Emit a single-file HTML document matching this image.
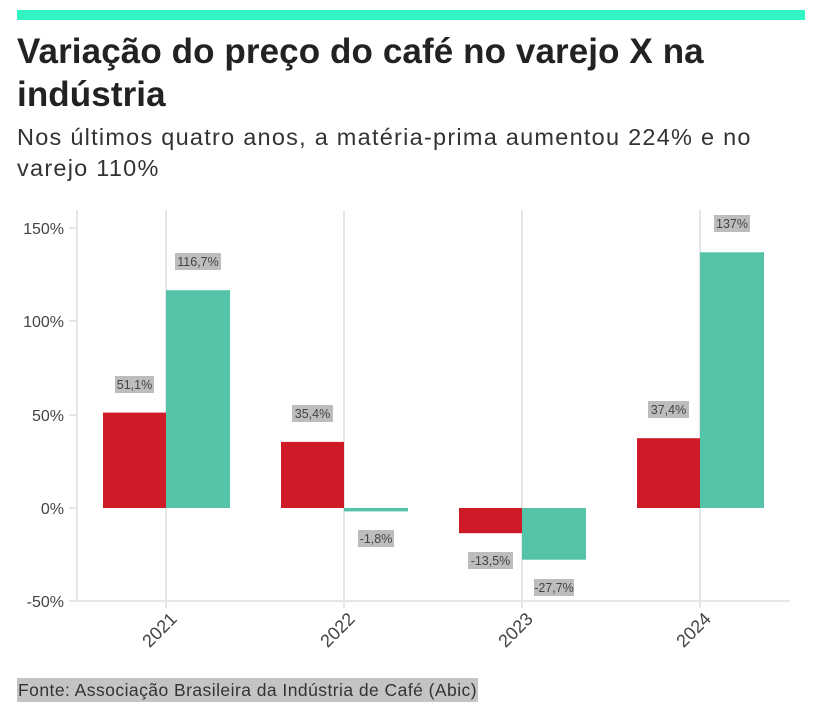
<!DOCTYPE html>
<html><head><meta charset="utf-8"><style>
body{margin:0;background:#fff;width:828px;height:711px;overflow:hidden;font-family:"Liberation Sans",sans-serif;position:relative}
.bar{position:absolute;left:17px;top:10px;width:788px;height:10px;background:#33f5c3}
h1{position:absolute;left:17px;top:30px;margin:0;font-size:35px;letter-spacing:0.1px;line-height:43px;font-weight:bold;color:#222;width:800px}
.sub{position:absolute;left:17px;top:122px;font-size:23.5px;letter-spacing:1.25px;line-height:31px;color:#333;width:790px}
.foot{position:absolute;left:17px;top:678px;font-size:17.5px;letter-spacing:0.45px;line-height:24px;color:#333;background:#c4c4c4;padding:0 1px}
</style></head><body>
<div class="bar"></div>
<h1>Variação do preço do café no varejo X na indústria</h1>
<div class="sub">Nos últimos quatro anos, a matéria-prima aumentou 224% e no varejo 110%</div>
<svg width="828" height="711" style="position:absolute;left:0;top:0" font-family="Liberation Sans, sans-serif">
<g stroke="#e6e6e6" stroke-width="2">
<line x1="77" y1="210" x2="77" y2="601"/>
<line x1="166" y1="210" x2="166" y2="608"/>
<line x1="344" y1="210" x2="344" y2="608"/>
<line x1="522" y1="210" x2="522" y2="608"/>
<line x1="700" y1="210" x2="700" y2="608"/>
<line x1="77" y1="601" x2="790" y2="601"/>
<line x1="69" y1="228" x2="77" y2="228"/>
<line x1="69" y1="321" x2="77" y2="321"/>
<line x1="69" y1="415" x2="77" y2="415"/>
<line x1="69" y1="508" x2="77" y2="508"/>
<line x1="69" y1="601" x2="77" y2="601"/>
</g>
<g font-size="16" fill="#444" text-anchor="end">
<text x="64" y="234">150%</text><text x="64" y="327">100%</text><text x="64" y="421">50%</text><text x="64" y="514">0%</text><text x="64" y="607">-50%</text>
</g>
<g fill="#cf1a27">
<rect x="103" y="412.6" width="63" height="95.4"/>
<rect x="281" y="441.9" width="63" height="66.1"/>
<rect x="459" y="508" width="63" height="25.2"/>
<rect x="637" y="438.2" width="63" height="69.8"/>
</g>
<g fill="#55c3a8">
<rect x="166" y="290.2" width="64" height="217.8"/>
<rect x="344" y="508" width="64" height="3.4"/>
<rect x="522" y="508" width="64" height="51.7"/>
<rect x="700" y="252.3" width="64" height="255.7"/>
</g>
<g font-size="12.5" fill="#444" text-anchor="middle">
<rect x="115" y="376" width="39" height="17" fill="#bdbdbd"/><text x="134.5" y="389">51,1%</text>
<rect x="175" y="253" width="46" height="17" fill="#bdbdbd"/><text x="198" y="266">116,7%</text>
<rect x="292" y="405" width="41" height="17" fill="#bdbdbd"/><text x="312.5" y="418">35,4%</text>
<rect x="358" y="530" width="36" height="17" fill="#bdbdbd"/><text x="376" y="543">-1,8%</text>
<rect x="468" y="552" width="45" height="17" fill="#bdbdbd"/><text x="490.5" y="565">-13,5%</text>
<rect x="534" y="579" width="40" height="17" fill="#bdbdbd"/><text x="554" y="592">-27,7%</text>
<rect x="648" y="401" width="41" height="17" fill="#bdbdbd"/><text x="668.5" y="414">37,4%</text>
<rect x="714" y="215" width="36" height="17" fill="#bdbdbd"/><text x="732" y="228">137%</text>
</g>
<g font-size="18" fill="#444" text-anchor="end">
<text transform="translate(178,620) rotate(-45)">2021</text>
<text transform="translate(356,620) rotate(-45)">2022</text>
<text transform="translate(534,620) rotate(-45)">2023</text>
<text transform="translate(712,620) rotate(-45)">2024</text>
</g>
</svg>
<div class="foot">Fonte: Associação Brasileira da Indústria de Café (Abic)</div>
</body></html>
